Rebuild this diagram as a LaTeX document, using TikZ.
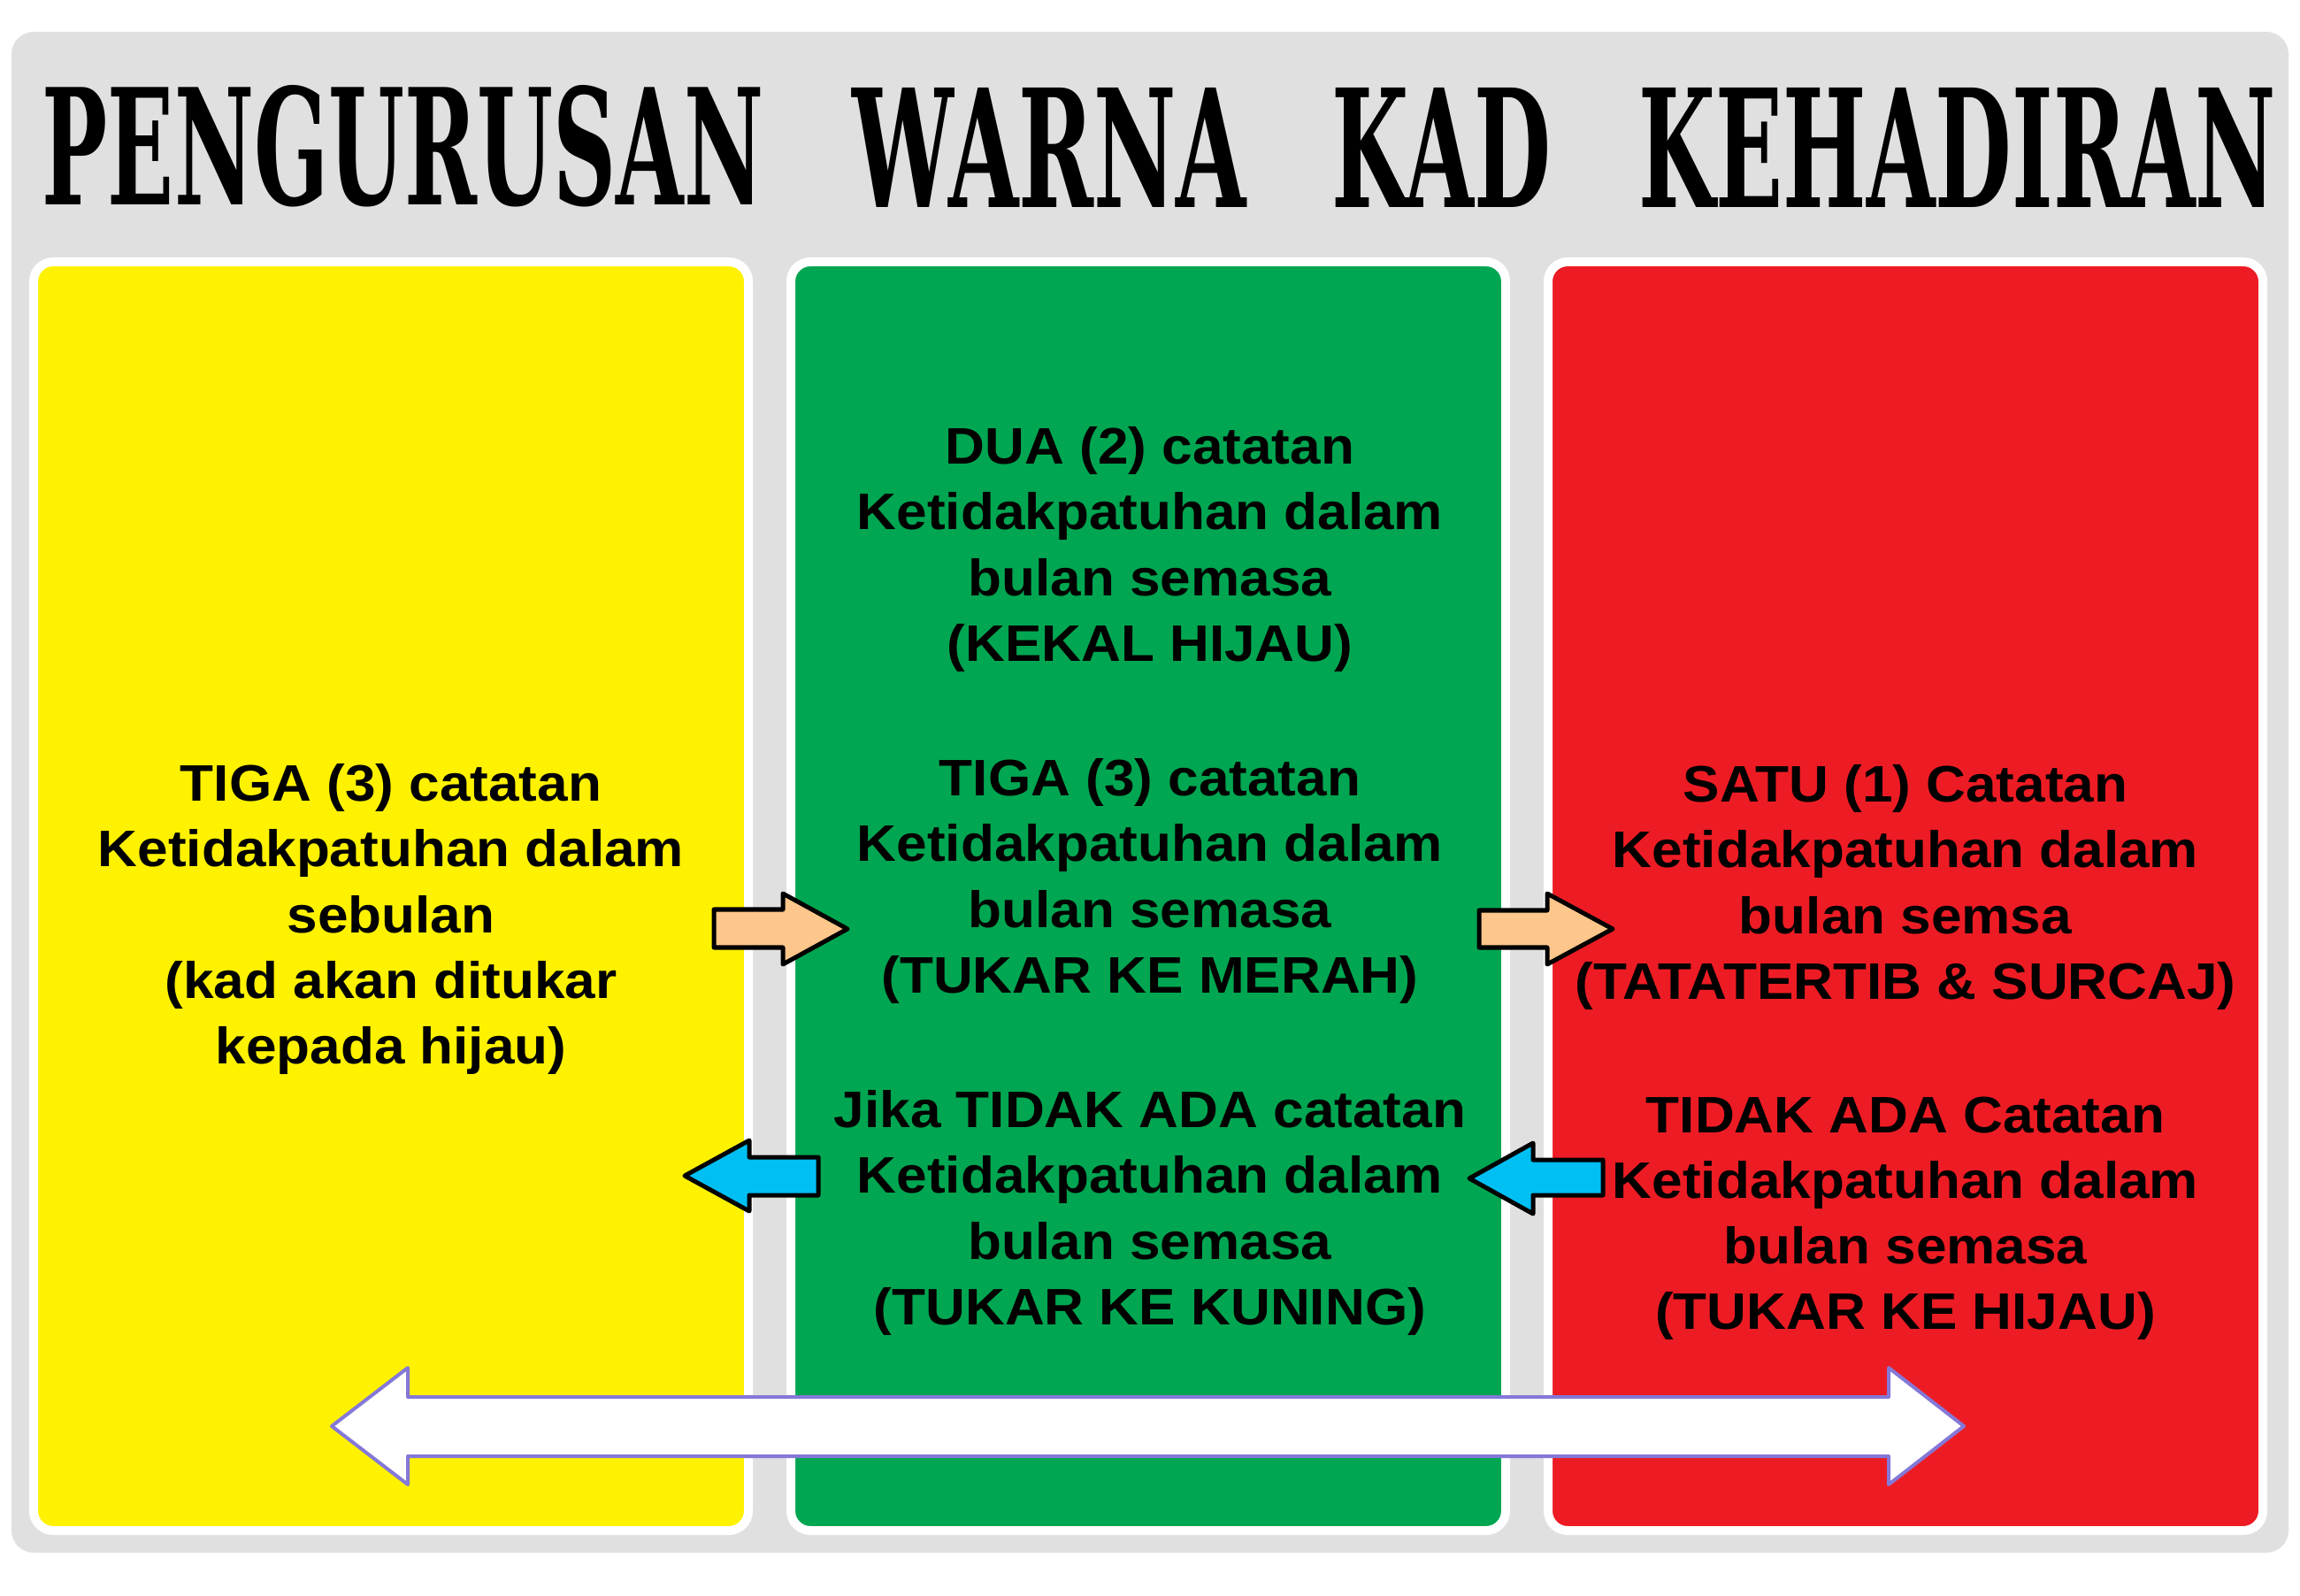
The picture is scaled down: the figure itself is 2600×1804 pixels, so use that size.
\documentclass[tikz,border=0pt]{standalone}
\usepackage{graphicx}
\usepackage{fontspec}
\setmainfont{Liberation Sans}[FakeStretch=1.07]
\newfontfamily\titlefont{DejaVu Serif}

\definecolor{bggray}{RGB}{224,224,224}
\definecolor{cardyellow}{RGB}{255,242,0}
\definecolor{cardgreen}{RGB}{0,166,81}
\definecolor{cardred}{RGB}{237,28,36}
\definecolor{arroworange}{RGB}{253,198,138}
\definecolor{arrowblue}{RGB}{0,191,243}
\definecolor{arrowpurple}{RGB}{132,120,216}

\tikzset{
  card/.style={draw=white, line width=0.1cm, rounded corners=0.22cm},
  cardtext/.style={align=center, inner sep=0pt, font=\fontsize{16.5pt}{21.05pt}\selectfont\bfseries},
  movearrow/.style={draw=black, line width=0.05cm, line join=round},
  bigarrow/.style={fill=white, draw=arrowpurple, line width=0.04cm, line join=round},
  titleword/.style={anchor=south west, inner sep=0pt},
}

\begin{document}
\begin{tikzpicture}[x=0.01cm, y=-0.01cm]
    \useasboundingbox (0,0) rectangle (2600,1804);
    \fill[white] (0,0) rectangle (2600,1804);
    \fill[bggray, rounded corners=0.25cm] (13,36) rectangle (2587,1755); % board

    % title, one word at a time
    \node[titleword] (wpengurusan) at (47,235) {\resizebox{8.15cm}{1.35cm}{\titlefont\bfseries PENGURUSAN}};
    \node[titleword] (wwarna) at (963,235) {\resizebox{4.45cm}{1.35cm}{\titlefont\bfseries WARNA}};
    \node[titleword] (wkad) at (1505,235) {\resizebox{2.48cm}{1.35cm}{\titlefont\bfseries KAD}};
    \node[titleword] (wkehadiran) at (1852,235) {\resizebox{7.20cm}{1.35cm}{\titlefont\bfseries KEHADIRAN}};

    % the three cards
    \draw[card, fill=cardyellow] (38,296) rectangle (846,1730);
    \draw[card, fill=cardgreen] (894,296) rectangle (1702,1730);
    \draw[card, fill=cardred] (1750,296) rectangle (2558,1730);

    % moves between cards
    \draw[movearrow, fill=arroworange] (807,1028) -- (885,1028) -- (885,1010) -- (958,1050) -- (885,1090) -- (885,1071) -- (807,1071) -- cycle; % yellow to green
    \draw[movearrow, fill=arroworange] (1672,1029) -- (1749,1029) -- (1749,1010) -- (1823,1050) -- (1749,1090) -- (1749,1071) -- (1672,1071) -- cycle; % green to red
    \draw[movearrow, fill=arrowblue] (925,1308) -- (847,1308) -- (847,1289) -- (774,1329) -- (847,1369) -- (847,1351) -- (925,1351) -- cycle; % green to yellow
    \draw[movearrow, fill=arrowblue] (1812,1311) -- (1733,1311) -- (1733,1292) -- (1661,1332) -- (1733,1372) -- (1733,1351) -- (1812,1351) -- cycle; % red to green
    \draw[bigarrow] (375,1612) -- (461,1546) -- (461,1579) -- (2135,1579) -- (2135,1546) -- (2220,1612) -- (2135,1678) -- (2135,1646) -- (461,1646) -- (461,1678) -- cycle;

    % card texts
    \node[cardtext] (yellowtext) at (442,1039) {TIGA (3) catatan\\Ketidakpatuhan dalam\\sebulan\\(kad akan ditukar\\kepada hijau)};
    \node[cardtext] (greenkeep) at (1300,621) {DUA (2) catatan\\Ketidakpatuhan dalam\\bulan semasa\\(KEKAL HIJAU)};
    \node[cardtext] (greenred) at (1300,996) {TIGA (3) catatan\\Ketidakpatuhan dalam\\bulan semasa\\(TUKAR KE MERAH)};
    \node[cardtext] (greenyellow) at (1300,1371) {Jika TIDAK ADA catatan\\Ketidakpatuhan dalam\\bulan semasa\\(TUKAR KE KUNING)};
    \node[cardtext] (redrules) at (2154,1003) {SATU (1) Catatan\\Ketidakpatuhan dalam\\bulan semsa\\(TATATERTIB \& SURCAJ)};
    \node[cardtext] (redgreen) at (2154,1377) {TIDAK ADA Catatan\\Ketidakpatuhan dalam\\bulan semasa\\(TUKAR KE HIJAU)};
\end{tikzpicture}
\end{document}
